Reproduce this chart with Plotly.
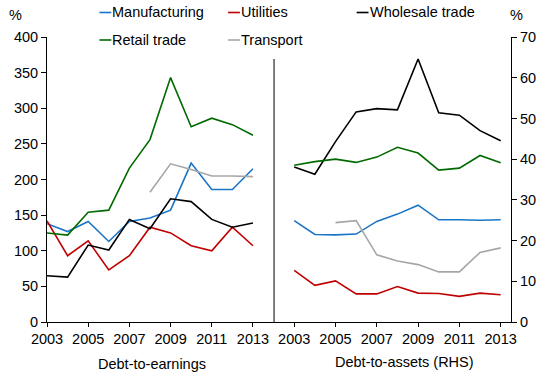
import plotly.graph_objects as go

years = list(range(2003, 2014))

# Debt-to-earnings (%), left panel
dte_manufacturing = [138, 127, 141, 113, 141, 146, 157, 223, 186, 186, 215]
dte_utilities = [142, 93, 114, 73, 93, 133, 125, 107, 100, 133, 107]
dte_wholesale = [65, 63, 108, 101, 144, 131, 173, 169, 144, 133, 139]
dte_retail = [125, 122, 154, 157, 216, 256, 343, 274, 286, 277, 262]
dte_transport = [None, None, None, None, None, 182, 222, 214, 205, 205, 204]

# Debt-to-assets (%), right panel (RHS)
dta_manufacturing = [24.9, 21.5, 21.4, 21.6, 24.7, 26.5, 28.7, 25.1, 25.1, 25.0, 25.1]
dta_utilities = [12.7, 9.0, 10.1, 6.9, 6.9, 8.7, 7.1, 7.0, 6.3, 7.1, 6.7]
dta_wholesale = [38.1, 36.3, 44.3, 51.6, 52.4, 52.1, 64.6, 51.4, 50.8, 47.0, 44.5]
dta_retail = [38.5, 39.4, 40.0, 39.2, 40.5, 42.9, 41.5, 37.3, 37.8, 40.9, 39.1]
dta_transport = [None, None, 24.4, 24.9, 16.5, 15.0, 14.1, 12.3, 12.3, 17.1, 18.2]

series_names = ["Manufacturing", "Utilities", "Wholesale trade", "Retail trade", "Transport"]
colors = ["#1b75c6", "#c00000", "#000000", "#006a00", "#a6a6a6"]
left_data = [dte_manufacturing, dte_utilities, dte_wholesale, dte_retail, dte_transport]
right_data = [dta_manufacturing, dta_utilities, dta_wholesale, dta_retail, dta_transport]

W, H = 548, 376
ML, MR, MT, MB = 47, 32, 37, 54
PW, PH = W - ML - MR, H - MT - MB


def px(x):
    return (x - ML) / PW


def py(y):
    return (H - MB - y) / PH


FONT = "Liberation Sans, Arial, sans-serif"
FS = 14.5

fig = go.Figure()
for name, col, d in zip(series_names, colors, left_data):
    fig.add_trace(go.Scatter(x=years, y=d, mode="lines", name=name,
                             line=dict(color=col, width=1.6),
                             xaxis="x", yaxis="y", showlegend=False,
                             connectgaps=False, hoverinfo="skip"))
for name, col, d in zip(series_names, colors, right_data):
    fig.add_trace(go.Scatter(x=years, y=d, mode="lines", name=name,
                             line=dict(color=col, width=1.6),
                             xaxis="x2", yaxis="y2", showlegend=False,
                             connectgaps=False, hoverinfo="skip"))

split = px(276)
xtick = [2003, 2005, 2007, 2009, 2011, 2013]
axis_common = dict(showline=True, linecolor="black", linewidth=1,
                   ticks="outside", tickcolor="black", showgrid=False,
                   zeroline=False, tickfont=dict(family=FONT, size=FS, color="black"))

fig.update_layout(
    width=W, height=H,
    margin=dict(l=ML, r=MR, t=MT, b=MB),
    paper_bgcolor="white", plot_bgcolor="white",
    font=dict(family=FONT, size=FS, color="black"),
    showlegend=False,
    xaxis=dict(domain=[0, split], range=[2003, 2014], tickvals=xtick,
               ticklen=4, anchor="y", **axis_common),
    xaxis2=dict(domain=[split, 1], range=[2002, 2013.5], tickvals=xtick,
                ticklen=4, anchor="y2", **axis_common),
    yaxis=dict(range=[0, 400], dtick=50, ticklen=5, anchor="x", **axis_common),
    yaxis2=dict(range=[0, 70], dtick=10, ticklen=5, anchor="x2", side="right",
                **axis_common),
)

shapes = [dict(type="line", xref="paper", x0=px(276.5), x1=px(276.5), yref="paper",
               y0=0, y1=py(59), line=dict(color="black", width=1))]
annotations = []

legend_pos = [(100, 12.5), (230, 12.5), (360, 12.5), (100, 40), (230, 40)]
for (lx, ly), name, col in zip(legend_pos, series_names, colors):
    shapes.append(dict(type="line", xref="paper", yref="paper",
                       x0=px(lx), x1=px(lx + 12), y0=py(ly), y1=py(ly),
                       line=dict(color=col, width=1.6)))
    annotations.append(dict(text=name, xref="paper", yref="paper",
                            x=px(lx + 12), y=py(ly), xanchor="left", yanchor="middle",
                            showarrow=False, xshift=-1,
                            font=dict(family=FONT, size=FS, color="black")))

annotations += [
    dict(text="%", xref="paper", yref="paper", x=px(15), y=py(15),
         xanchor="center", yanchor="middle", showarrow=False),
    dict(text="%", xref="paper", yref="paper", x=px(522), y=py(15),
         xanchor="center", yanchor="middle", showarrow=False),
    dict(text="Debt-to-earnings", xref="paper", yref="paper", x=px(153), y=py(364),
         xanchor="center", yanchor="middle", showarrow=False),
    dict(text="Debt-to-assets (RHS)", xref="paper", yref="paper", x=px(408), y=py(362),
         xanchor="center", yanchor="middle", showarrow=False),
]

fig.update_layout(shapes=shapes, annotations=annotations)
fig.write_html("out.html", config={"displayModeBar": False},
               post_script="document.body.style.margin='0';document.body.style.padding='0';")
